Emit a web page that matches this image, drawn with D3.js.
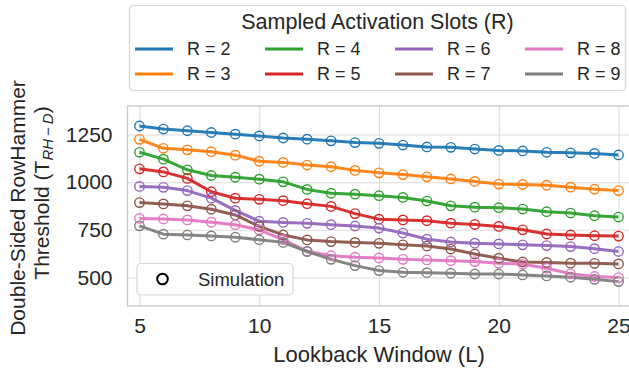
<!DOCTYPE html>
<html><head><meta charset="utf-8">
<script src="https://cdn.jsdelivr.net/npm/d3@7"></script>
<style>
html,body{margin:0;padding:0;background:#fff;}
svg{display:block;font-family:"Liberation Sans",Arial,sans-serif;}
</style></head>
<body><svg id="c" width="629" height="373"></svg>
<script>
const lookback = [5,6,7,8,9,10,11,12,13,14,15,16,17,18,19,20,21,22,23,24,25];
const r2 = [1295,1279,1270,1261,1252,1243,1232,1226,1217,1208,1204,1195,1185,1183,1174,1167,1164,1157,1154,1151,1143];
const r3 = [1225,1178,1170,1160,1142,1110,1104,1090,1081,1062,1049,1040,1028,1017,1004,990,988,984,974,963,956];
const r4 = [1157,1121,1065,1035,1026,1016,1002,962,942,937,929,920,901,876,869,866,859,845,838,824,817];
const r5 = [1070,1054,1020,950,916,910,903,887,873,835,806,802,798,785,778,768,750,728,723,719,717];
const r6 = [978,973,956,916,852,795,789,784,777,770,759,733,701,686,680,676,671,667,662,651,636];
const r7 = [893,886,876,858,828,768,723,697,688,684,679,671,665,649,623,601,581,579,575,574,571];
const r8 = [810,807,802,790,777,750,698,637,614,606,602,595,592,588,583,575,569,548,519,505,499];
const r9 = [771,727,723,718,711,698,684,636,595,562,536,527,525,522,518,518,513,508,501,490,478];
const seriesNames = ["R = 2","R = 3","R = 4","R = 5","R = 6","R = 7","R = 8","R = 9"];
const seriesValues = [r2,r3,r4,r5,r6,r7,r8,r9];
const colors = ["#1f77b4","#ff7f0e","#2ca02c","#d62728","#9467bd","#8c564b","#e377c2","#7f7f7f"];
const xTicks = [5,10,15,20,25];
const yTicks = [500,750,1000,1250];

(function(){
const svg = d3.select("#c");
const txt = "#262626";
const pL = 127.5, pR = 630.5, pT = 106, pB = 306;
const x = d3.scaleLinear().domain([4.5,25.5]).range([pL,pR]);
const y = d3.scaleLinear().domain([350,1400]).range([pB,pT]);

const g = svg.append("g");
g.append("g").attr("transform",`translate(0,${pB})`)
  .call(d3.axisBottom(x).tickValues(xTicks).tickFormat(d3.format("d")).tickSize(-(pB-pT)).tickPadding(12))
  .call(a=>{a.select(".domain").remove();
    a.selectAll("line").attr("stroke","#dcdcdc").attr("stroke-width",1.1);
    a.selectAll("text").attr("fill",txt).attr("font-size",21).attr("font-family","Liberation Sans, Arial, sans-serif");});
g.append("g").attr("transform",`translate(${pL},0)`)
  .call(d3.axisLeft(y).tickValues(yTicks).tickFormat(d3.format("d")).tickSize(-(pR-pL)).tickPadding(15))
  .call(a=>{a.select(".domain").remove();
    a.selectAll("line").attr("stroke","#dcdcdc").attr("stroke-width",1.1);
    a.selectAll("text").attr("fill",txt).attr("font-size",21).attr("font-family","Liberation Sans, Arial, sans-serif");});

svg.append("rect").attr("x",pL).attr("y",pT).attr("width",pR-pL).attr("height",pB-pT)
  .attr("fill","none").attr("stroke","#c8c8c8").attr("stroke-width",1.3);

const line = d3.line().x((d,i)=>x(lookback[i])).y(d=>y(d));
seriesValues.forEach((vals,k)=>{
  svg.append("path").datum(vals).attr("d",line).attr("fill","none")
    .attr("stroke",colors[k]).attr("stroke-width",3).attr("stroke-linejoin","round").attr("opacity",0.95);
});
seriesValues.forEach((vals,k)=>{
  svg.append("g").selectAll("circle").data(vals).join("circle")
    .attr("cx",(d,i)=>x(lookback[i])).attr("cy",d=>y(d)).attr("r",4.7)
    .attr("fill","none").attr("stroke",colors[k]).attr("stroke-width",1.4);
});

svg.append("text").attr("x",x(15)).attr("y",362).attr("text-anchor","middle")
  .attr("font-size",22).attr("fill",txt).text("Lookback Window (L)");
svg.append("text").attr("transform","translate(24.5,208) rotate(-90)").attr("text-anchor","middle")
  .attr("font-size",21).attr("fill",txt).text("Double-Sided RowHammer");
const yl2 = svg.append("text").attr("transform","translate(49,193) rotate(-90)").attr("text-anchor","middle")
  .attr("font-size",21).attr("fill",txt);
yl2.append("tspan").text("Threshold (T");
yl2.append("tspan").attr("font-size",15).attr("font-style","italic").attr("dy",4).text("RH\u2009\u2212\u2009D");
yl2.append("tspan").attr("dy",-4).text(")");

svg.append("rect").attr("x",129.5).attr("y",5.5).attr("width",496).attr("height",85).attr("rx",4)
  .attr("fill","#fff").attr("stroke","#d6d6d6").attr("stroke-width",1.2);
svg.append("text").attr("x",377.5).attr("y",29).attr("text-anchor","middle")
  .attr("font-size",21.5).attr("fill",txt).text("Sampled Activation Slots (R)");
const colX = [135,265,395,525];
const rowY = [49,74];
seriesNames.forEach((nm,k)=>{
  const cx = colX[Math.floor(k/2)], cy = rowY[k%2];
  svg.append("line").attr("x1",cx).attr("x2",cx+38).attr("y1",cy).attr("y2",cy)
    .attr("stroke",colors[k]).attr("stroke-width",3);
  svg.append("text").attr("x",cx+52).attr("y",cy+6).attr("font-size",18).attr("fill",txt).text(nm);
});

svg.append("rect").attr("x",137).attr("y",263.5).attr("width",156).attr("height",31.5).attr("rx",4)
  .attr("fill","#fff").attr("stroke","#d6d6d6").attr("stroke-width",1.2);
svg.append("circle").attr("cx",162.5).attr("cy",279).attr("r",5.3).attr("fill","none")
  .attr("stroke","#000").attr("stroke-width",2);
svg.append("text").attr("x",198).attr("y",285.5).attr("font-size",18.5).attr("fill",txt).text("Simulation");
})();
</script></body></html>
